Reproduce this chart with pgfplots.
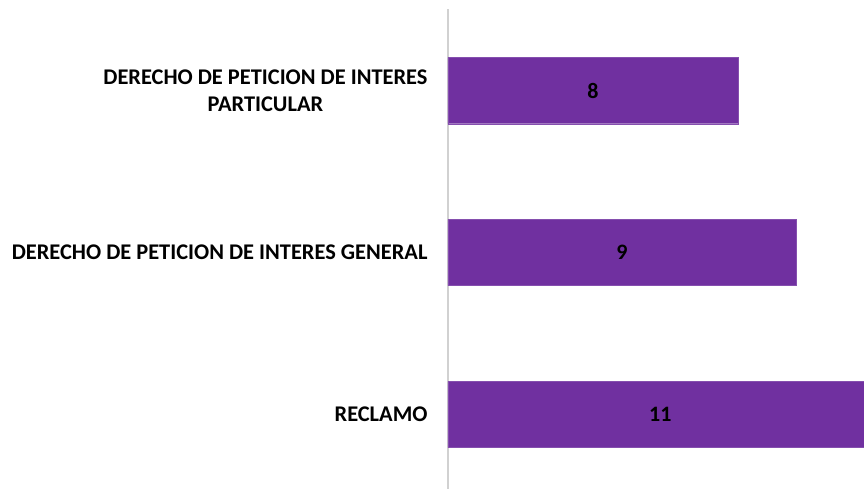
\documentclass[border=0pt]{standalone}
\usepackage{pgfplots}
\pgfplotsset{compat=1.18}
\usepackage{fontspec}
\setmainfont{Carlito}
\definecolor{barpurple}{HTML}{7030A0}
\begin{document}
\begin{tikzpicture}
\begin{axis}[
  at={(448bp,0bp)}, anchor=south west,
  width=416bp, height=479.5bp, scale only axis,
  xmin=3, xmax=10.17, ymin=-0.46, ymax=2.5,
  axis x line=none,
  axis y line*=left,
  y axis line style={draw=black!18, line width=1.2bp, -},
  ytick={0,1,2},
  yticklabels={RECLAMO, DERECHO DE PETICION DE INTERES GENERAL, {DERECHO DE PETICION DE INTERES\\PARTICULAR}},
  yticklabel style={align=center, font=\fontsize{22.4bp}{27bp}\selectfont\bfseries, xshift=-17bp},
  major tick length=0pt,
  clip=true,
]
\addplot[xbar, bar width=0.41, fill=barpurple, draw=barpurple!85!white] coordinates {(11,0) (9,1) (8,2)};
\addplot[only marks, mark options={draw=none,fill=none}, nodes near coords, point meta=explicit symbolic,
  nodes near coords style={anchor=center, font=\fontsize{22bp}{26bp}\selectfont\bfseries}]
  coordinates {(6.66,0)[11] (6,1)[9] (5.5,2)[8]};
\end{axis}
\pgfresetboundingbox
\useasboundingbox (0,0) rectangle (864bp,489bp);
\end{tikzpicture}
\end{document}
